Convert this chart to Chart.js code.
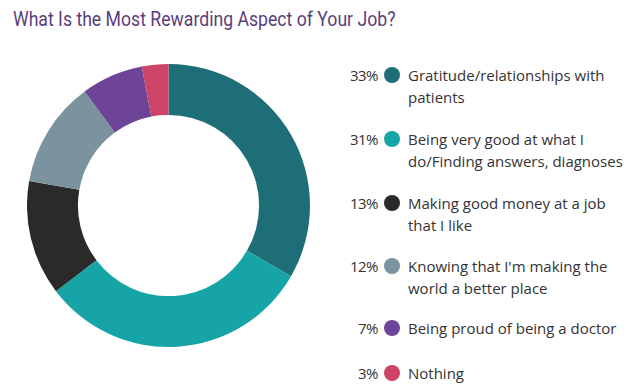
<!DOCTYPE html>
<html>
<head>
<meta charset="utf-8">
<script src="https://cdn.jsdelivr.net/npm/chart.js@4/dist/chart.umd.min.js"></script>
<style>
  body { margin: 0; background: #fff; width: 632px; height: 387px; overflow: hidden; position: relative; }
  #title { position: absolute; left: 13px; top: 7px; font-family: Roboto, sans-serif; font-size: 21px;
           color: #5a3e7b; white-space: nowrap; transform: scaleX(0.84); transform-origin: left top; }
  #chartBox { position: absolute; left: 27px; top: 64px; width: 283px; height: 283px; }
  #legend { position: absolute; left: 0; top: 0; }
  .item { position: absolute; left: 330px; width: 300px; font-family: "Open Sans", sans-serif; font-size: 15px;
          color: #333; line-height: 22px; }
  .pct { position: absolute; left: 0; width: 48px; text-align: right; top: 0; letter-spacing: -0.5px; }
  .dot { position: absolute; left: 54px; top: 3px; width: 16px; height: 16px; border-radius: 50%; }
  .txt { position: absolute; left: 78px; top: 0; white-space: nowrap; }
</style>
</head>
<body>
<div id="title">What Is the Most Rewarding Aspect of Your Job?</div>
<div id="chartBox"><canvas id="myChart"></canvas></div>
<div id="legend"></div>
<script>
// ------------ data -------------

const labels = [
  ['Gratitude/relationships with', 'patients'],
  ['Being very good at what I', 'do/Finding answers, diagnoses'],
  ['Making good money at a job', 'that I like'],
  ['Knowing that I\'m making the', 'world a better place'],
  ['Being proud of being a doctor'],
  ['Nothing']
];
const values = [33, 31, 13, 12, 7, 3];
const colors = ['#1e6e78', '#17a4a6', '#2a2a2a', '#7a939e', '#6e4596', '#cd4467'];

// legend row tops (y of first line)
const rowTops = [64, 128, 192, 255, 317, 362];

// ------------ Chart.js -------------

const data = {
  labels: labels,
  datasets: [{
    data: values,
    backgroundColor: colors,
    borderWidth: 0
  }]
};

const config = {
  type: 'doughnut',
  data: data,
  options: {
    responsive: true,
    maintainAspectRatio: false,
    animation: false,
    cutout: '64%',
    plugins: {
      legend: { display: false },
      tooltip: { enabled: false }
    }
  }
};

var myChart = new Chart(document.getElementById('myChart'), config);

// --------- legend

var legend = document.getElementById('legend');
labels.forEach(function (lines, i) {
  var item = document.createElement('div');
  item.className = 'item';
  item.style.top = rowTops[i] + 'px';
  item.innerHTML = '<span class="pct">' + values[i] + '%</span>' +
    '<span class="dot" style="background:' + colors[i] + '"></span>' +
    '<span class="txt">' + lines.join('<br>') + '</span>';
  legend.appendChild(item);
});
</script>
</body>
</html>
